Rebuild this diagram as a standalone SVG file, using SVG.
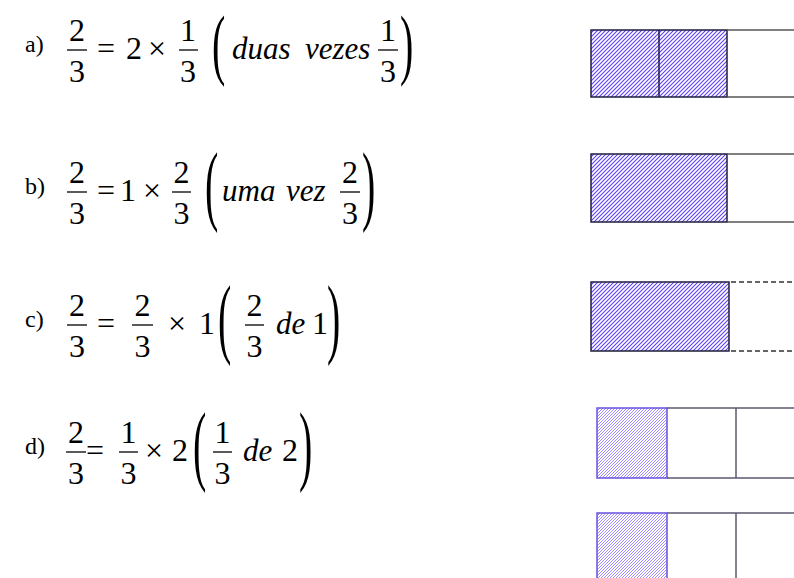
<svg xmlns="http://www.w3.org/2000/svg" width="794" height="578" viewBox="0 0 794 578">
<defs>
<pattern id="hatch" patternUnits="userSpaceOnUse" width="4" height="4">
<rect width="4" height="4" fill="#ffffff"/>
<path d="M-1,1 l2,-2 M0,4 l4,-4 M3,5 l2,-2" stroke="#5b3cf8" stroke-width="1.05"/>
</pattern>
<pattern id="hatchLight" patternUnits="userSpaceOnUse" width="3" height="3">
<rect width="3" height="3" fill="#ffffff"/>
<path d="M-1,1 l2,-2 M0,3 l3,-3 M2,4 l2,-2" stroke="#9d8cff" stroke-width="1"/>
</pattern>
</defs>
<style>
.t{font-family:"Liberation Serif","Times New Roman",serif;font-size:32px;fill:#000}
.m{text-anchor:middle}
.i{font-family:"Liberation Serif","Times New Roman",serif;font-style:italic;font-size:31px;fill:#000}
.lbl{font-family:"Liberation Serif","Times New Roman",serif;font-size:24px;fill:#000}
.p{font-family:"Liberation Serif","Times New Roman",serif;font-size:40px;fill:#000}
.bar{stroke:#000;stroke-width:1.3}
.box{fill:url(#hatch);stroke:#1e1e3c;stroke-width:1.5}
.boxL{fill:url(#hatchLight);stroke:#6a50e0;stroke-width:1.5}
.ln{stroke:#555;stroke-width:1.5;fill:none}
.lnL{stroke:#5d5870;stroke-width:1.5;fill:none}
.dash{stroke:#333;stroke-width:1.5;stroke-dasharray:5 3;fill:none}
</style>

<g id="row-a">
<text class="lbl" x="25" y="52">a)</text>
<text class="t m" x="77" y="41">2</text><line class="bar" x1="67" y1="50" x2="87" y2="50"/><text class="t m" x="77" y="82">3</text>
<text class="t" x="97" y="59">=</text>
<text class="t" x="126" y="59">2</text>
<text class="t" x="148" y="59">×</text>
<text class="t m" x="188" y="41">1</text><line class="bar" x1="179" y1="50" x2="198" y2="50"/><text class="t m" x="188" y="82">3</text>
<text class="p" transform="translate(212,69.5) scale(1,1.95)">(</text>
<text class="i" x="232" y="59">duas</text>
<text class="i" x="305" y="59">vezes</text>
<text class="t m" x="388" y="41">1</text><line class="bar" x1="378" y1="50" x2="398" y2="50"/><text class="t m" x="388" y="82">3</text>
<text class="p" transform="translate(400,69.5) scale(1,1.95)">)</text>
</g>

<g id="row-b">
<text class="lbl" x="25" y="194">b)</text>
<text class="t m" x="77" y="183">2</text><line class="bar" x1="67" y1="192" x2="87" y2="192"/><text class="t m" x="77" y="224">3</text>
<text class="t" x="97" y="201">=</text>
<text class="t" x="120" y="201">1</text>
<text class="t" x="143" y="201">×</text>
<text class="t m" x="181.5" y="183">2</text><line class="bar" x1="172" y1="192" x2="191" y2="192"/><text class="t m" x="181.5" y="224">3</text>
<text class="p" transform="translate(205,214) scale(1,2.2)">(</text>
<text class="i" x="222" y="201">uma</text>
<text class="i" x="286" y="201">vez</text>
<text class="t m" x="350" y="183">2</text><line class="bar" x1="340" y1="192" x2="360" y2="192"/><text class="t m" x="350" y="224">3</text>
<text class="p" transform="translate(362,214) scale(1,2.2)">)</text>
</g>

<g id="row-c">
<text class="lbl" x="25" y="327">c)</text>
<text class="t m" x="77" y="316">2</text><line class="bar" x1="67" y1="325" x2="87" y2="325"/><text class="t m" x="77" y="357">3</text>
<text class="t" x="97" y="334">=</text>
<text class="t m" x="142.5" y="316">2</text><line class="bar" x1="132" y1="325" x2="153" y2="325"/><text class="t m" x="142.5" y="357">3</text>
<text class="t" x="168" y="334">×</text>
<text class="t" x="199" y="334">1</text>
<text class="p" transform="translate(218,347) scale(1,2.2)">(</text>
<text class="t m" x="254.5" y="316">2</text><line class="bar" x1="245" y1="325" x2="264" y2="325"/><text class="t m" x="254.5" y="357">3</text>
<text class="i" x="276" y="334">de</text>
<text class="t" x="312" y="334">1</text>
<text class="p" transform="translate(327,347) scale(1,2.2)">)</text>
</g>

<g id="row-d">
<text class="lbl" x="25" y="454">d)</text>
<text class="t m" x="76" y="443">2</text><line class="bar" x1="66" y1="452" x2="86" y2="452"/><text class="t m" x="76" y="484">3</text>
<text class="t" x="86" y="461">=</text>
<text class="t m" x="128.5" y="443">1</text><line class="bar" x1="119" y1="452" x2="138" y2="452"/><text class="t m" x="128.5" y="484">3</text>
<text class="t" x="145" y="461">×</text>
<text class="t" x="172" y="461">2</text>
<text class="p" transform="translate(193,474) scale(1,2.2)">(</text>
<text class="t m" x="222.5" y="443">1</text><line class="bar" x1="213" y1="452" x2="232" y2="452"/><text class="t m" x="222.5" y="484">3</text>
<text class="i" x="243" y="461">de</text>
<text class="t" x="282" y="461">2</text>
<text class="p" transform="translate(299,474) scale(1,2.2)">)</text>
</g>

<g id="bar-a">
<rect class="box" x="591" y="30" width="136" height="67"/>
<line class="ln" x1="659" y1="30" x2="659" y2="97" style="stroke:#1e1e3c"/>
<path class="ln" d="M727,30 H794 M727,97 H794"/>
</g>

<g id="bar-b">
<rect class="box" x="591" y="154" width="136" height="68"/>
<path class="ln" d="M727,154 H794 M727,222 H794"/>
</g>

<g id="bar-c">
<rect class="box" x="591" y="282" width="138" height="69"/>
<path class="dash" d="M731,282 H794 M731,351 H794"/>
</g>

<g id="bar-d">
<rect class="boxL" x="597" y="408" width="70" height="70"/>
<path class="lnL" d="M667,408 H794 M667,478 H794 M736,408 V478"/>
</g>

<g id="bar-e">
<rect class="boxL" x="597" y="513" width="70" height="80"/>
<path class="lnL" d="M667,513 H794 M736,513 V578"/>
</g>
</svg>
